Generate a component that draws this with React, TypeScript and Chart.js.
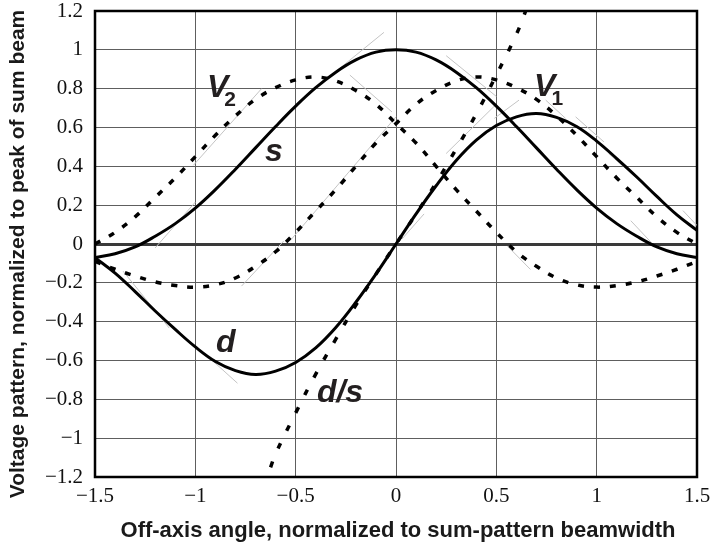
import React, { useEffect, useRef } from 'react';
import { Chart, registerables } from 'chart.js';

Chart.register(...registerables);

// ---- data ----
const X_VALUES = [
  -1.5, -1.4, -1.3, -1.2, -1.1, -1.0, -0.9, -0.8, -0.7, -0.6, -0.5, -0.4, -0.3, -0.2, -0.1, 0,
  0.1, 0.2, 0.3, 0.4, 0.5, 0.6, 0.7, 0.8, 0.9, 1.0, 1.1, 1.2, 1.3, 1.4, 1.5,
];
const S_VALUES = [
  -0.07, -0.05, -0.015, 0.04, 0.105, 0.185, 0.28, 0.385, 0.495, 0.605, 0.71, 0.805, 0.885, 0.948, 0.988, 1.0,
  0.988, 0.948, 0.885, 0.805, 0.71, 0.605, 0.495, 0.385, 0.28, 0.185, 0.105, 0.04, -0.015, -0.05, -0.07,
];
const D_VALUES = [
  -0.07, -0.15, -0.245, -0.345, -0.44, -0.53, -0.605, -0.652, -0.672, -0.655, -0.61, -0.535, -0.43, -0.3, -0.155, 0,
  0.155, 0.3, 0.43, 0.535, 0.61, 0.655, 0.672, 0.652, 0.605, 0.53, 0.44, 0.345, 0.245, 0.15, 0.07,
];
const V1_VALUES = [
  -0.09, -0.13, -0.165, -0.195, -0.214, -0.222, -0.21, -0.175, -0.115, -0.04, 0.06, 0.17, 0.28, 0.4, 0.52, 0.62,
  0.72, 0.79, 0.84, 0.86, 0.845, 0.805, 0.745, 0.66, 0.56, 0.45, 0.34, 0.24, 0.14, 0.06, 0.0,
];
const V2_VALUES = [
  0.0, 0.06, 0.14, 0.24, 0.34, 0.45, 0.56, 0.66, 0.745, 0.805, 0.845, 0.86, 0.84, 0.79, 0.72, 0.62,
  0.52, 0.4, 0.28, 0.17, 0.06, -0.04, -0.115, -0.175, -0.21, -0.222, -0.214, -0.195, -0.165, -0.13, -0.09,
];
const DS_X = [-0.625, -0.6, -0.5, -0.4, -0.3, -0.2, -0.1, 0, 0.1, 0.2, 0.3, 0.4, 0.5, 0.6, 0.65];
const DS_VALUES = [-1.15, -1.08, -0.87, -0.67, -0.49, -0.315, -0.155, 0, 0.155, 0.315, 0.49, 0.67, 0.87, 1.08, 1.21];

// faint grey straight guide segments seen in the reference: [x1, y1, x2, y2]
const GUIDE_SEGMENTS = [
  [-1.01, 0.405, -0.67, 0.8],
  [-1.2, -0.02, -1.0, 0.216],
  [-0.52, 0.026, 0.0, 0.655],
  [-0.23, 0.87, -0.02, 0.68],
  [-0.5, 0.72, -0.06, 1.09],
  [0.25, 0.97, 0.5, 0.76],
  [0.25, 0.466, 0.495, 0.715],
  [0.03, 0.026, 0.14, 0.155],
  [-1.36, -0.14, -1.13, -0.433],
  [-0.91, -0.605, -0.79, -0.717],
  [-0.77, -0.217, -0.56, 0.015],
  [0.555, -0.01, 0.67, -0.131],
  [0.49, 0.647, 0.613, 0.741],
  [0.746, 0.741, 0.845, 0.647],
  [0.895, 0.655, 1.036, 0.526],
  [1.06, 0.466, 1.22, 0.319],
  [0.83, 0.353, 0.905, 0.276],
  [1.17, 0.12, 1.27, 0.01],
  [1.43, 0.172, 1.5, 0.095],
];

const X_TICK_VALUES = [-1.5, -1, -0.5, 0, 0.5, 1, 1.5];
const X_TICK_LABELS = ['\u22121.5', '\u22121', '\u22120.5', '0', '0.5', '1', '1.5'];
const Y_TICK_VALUES = [-1.2, -1, -0.8, -0.6, -0.4, -0.2, 0, 0.2, 0.4, 0.6, 0.8, 1, 1.2];
const Y_TICK_LABELS = [
  '\u22121.2', '\u22121', '\u22120.8', '\u22120.6', '\u22120.4', '\u22120.2', '0',
  '0.2', '0.4', '0.6', '0.8', '1', '1.2',
];

const X_TITLE = 'Off-axis angle, normalized to sum-pattern beamwidth';
const Y_TITLE = 'Voltage pattern, normalized to peak of sum beam';

const CURVE_LABEL_TEXTS = ['V', 's', 'V', 'd', 'd/s'];
const CURVE_LABEL_SUBS = ['2', '', '1', '', ''];
const CURVE_LABEL_X = [-0.942, -0.653, 0.688, -0.897, -0.394];
const CURVE_LABEL_Y = [0.755, 0.43, 0.76, -0.554, -0.812];

const pts = (xs: number[], ys: number[]) => xs.map((x, i) => ({ x, y: ys[i] }));

const guidePoints = () => {
  const out: { x: number; y: number | null }[] = [];
  GUIDE_SEGMENTS.forEach(([x1, y1, x2, y2]) => {
    out.push({ x: x1, y: y1 }, { x: x2, y: y2 }, { x: x2, y: null });
  });
  return out;
};

const decorPlugin = {
  id: 'decor',
  beforeDatasetsDraw(chart: any) {
    const { ctx, chartArea: a } = chart;
    ctx.save();
    ctx.strokeStyle = '#000';
    ctx.lineWidth = 2.5;
    ctx.strokeRect(a.left, a.top, a.right - a.left, a.bottom - a.top);
    ctx.restore();
  },
  afterDatasetsDraw(chart: any) {
    const { ctx, chartArea: a, scales } = chart;
    const xs = scales.x;
    const ys = scales.y;
    ctx.save();
    ctx.fillStyle = '#231f20';
    ctx.textBaseline = 'alphabetic';
    ctx.textAlign = 'left';
    CURVE_LABEL_TEXTS.forEach((t, i) => {
      const px = xs.getPixelForValue(CURVE_LABEL_X[i]);
      const py = ys.getPixelForValue(CURVE_LABEL_Y[i]);
      ctx.font = "italic bold 32px 'Liberation Sans', Arial, sans-serif";
      ctx.fillText(t, px, py);
      const sub = CURVE_LABEL_SUBS[i];
      if (sub) {
        const w = ctx.measureText(t).width;
        ctx.font = "bold 21px 'Liberation Sans', Arial, sans-serif";
        ctx.fillText(sub, px + w - 4, py + 9);
      }
    });
    // axis titles
    ctx.fillStyle = '#1a1a1a';
    ctx.textAlign = 'center';
    ctx.font = "bold 22px 'Liberation Sans', Arial, sans-serif";
    ctx.fillText(X_TITLE, 398, 537);
    ctx.font = "bold 21px 'Liberation Sans', Arial, sans-serif";
    ctx.translate(23.5, (a.top + a.bottom) / 2 + 10);
    ctx.rotate(-Math.PI / 2);
    ctx.fillText(Y_TITLE, 0, 0);
    ctx.restore();
  },
};

export default function App() {
  const ref = useRef<HTMLCanvasElement | null>(null);

  useEffect(() => {
    document.body.style.margin = '0';
    const canvas = ref.current;
    if (!canvas) return;
    const tickFont = { family: "'Liberation Serif', 'Times New Roman', serif", size: 21 };
    const yGridColor = (c: any) => (c.tick && c.tick.value === 0 ? '#3a3a3a' : '#5e5e5e');
    const yGridWidth = (c: any) => (c.tick && c.tick.value === 0 ? 3 : 1);
    const solid = { borderColor: '#000', borderWidth: 3, pointRadius: 0, tension: 0.4, fill: false };
    const dotted = {
      borderColor: '#000',
      borderWidth: 3.5,
      borderDash: [6, 10],
      borderCapStyle: 'butt',
      pointRadius: 0,
      tension: 0.4,
      fill: false,
    };
    const chart = new Chart(canvas, {
      type: 'line',
      data: {
        datasets: [
          { label: 's', data: pts(X_VALUES, S_VALUES), ...solid },
          { label: 'd', data: pts(X_VALUES, D_VALUES), ...solid },
          { label: 'v1', data: pts(X_VALUES, V1_VALUES), ...dotted },
          { label: 'v2', data: pts(X_VALUES, V2_VALUES), ...dotted },
          { label: 'd/s', data: pts(DS_X, DS_VALUES), ...dotted, borderDash: [6, 14] },
          {
            label: 'guides',
            data: guidePoints(),
            borderColor: '#c4c4c4',
            borderWidth: 1,
            pointRadius: 0,
            tension: 0,
            spanGaps: false,
          },
        ],
      } as any,
      options: {
        responsive: false,
        animation: false,
        events: [],
        layout: { padding: { top: 11, right: 20, left: 0, bottom: 0 } },
        plugins: { legend: { display: false }, tooltip: { enabled: false }, title: { display: false } },
        scales: {
          x: {
            type: 'linear',
            min: -1.5,
            max: 1.5,
            afterFit: (s: any) => {
              s.height = 67;
              s.paddingLeft = 0;
              s.paddingRight = 0;
            },
            afterBuildTicks: (s: any) => {
              s.ticks = X_TICK_VALUES.map((v) => ({ value: v }));
            },
            ticks: {
              callback: (_v: any, i: number) => X_TICK_LABELS[i],
              font: tickFont,
              color: '#111',
              padding: 7,
              maxRotation: 0,
              autoSkip: false,
            },
            grid: { color: '#5e5e5e', lineWidth: 1, drawTicks: false },
            border: { display: false },
          },
          y: {
            type: 'linear',
            min: -1.2,
            max: 1.2,
            afterFit: (s: any) => {
              s.width = 95;
              s.paddingTop = 0;
              s.paddingBottom = 0;
            },
            afterBuildTicks: (s: any) => {
              s.ticks = Y_TICK_VALUES.map((v) => ({ value: v }));
            },
            ticks: {
              callback: (_v: any, i: number) => Y_TICK_LABELS[i],
              font: tickFont,
              color: '#111',
              padding: 12,
              autoSkip: false,
            },
            grid: { color: yGridColor, lineWidth: yGridWidth, drawTicks: false },
            border: { display: false },
          },
        },
      } as any,
      plugins: [decorPlugin],
    });
    return () => chart.destroy();
  }, []);

  return (
    <div style={{ position: 'absolute', left: 0, top: 0, width: 717, height: 544, background: '#fff' }}>
      <canvas ref={ref} width={717} height={544} style={{ display: 'block' }} />
    </div>
  );
}
